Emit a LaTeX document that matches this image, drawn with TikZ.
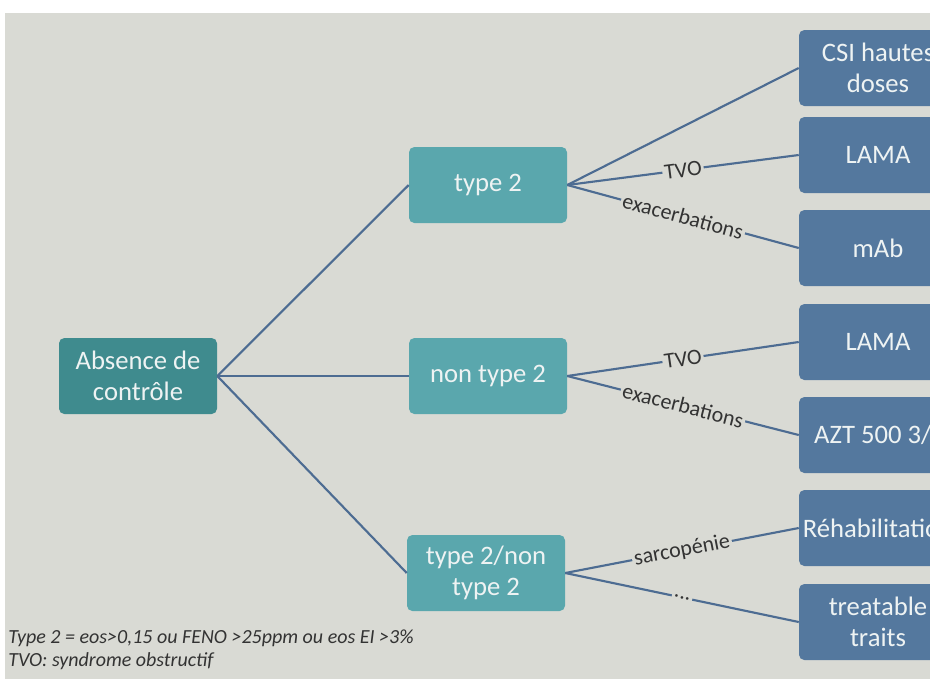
\documentclass[tikz,border=0pt]{standalone}
\usepackage{fontspec}
\setmainfont{Carlito}
\usepackage{tikz}
\usetikzlibrary{positioning}
\definecolor{slidebg}{HTML}{D9DAD4}
\definecolor{rootcol}{HTML}{3F8B8E}
\definecolor{midcol}{HTML}{5AA7AD}
\definecolor{leafcol}{HTML}{54789E}
\definecolor{linecol}{HTML}{4D6C92}
\definecolor{boxtext}{HTML}{EEF3F3}
\definecolor{labeltext}{HTML}{333333}
\tikzstyle{rootbox} = [rectangle, rounded corners=4pt, fill=rootcol, text=boxtext, minimum width=118.5pt, minimum height=57pt, inner sep=0pt, align=center, font=\fontsize{20}{23}\selectfont]
\tikzstyle{midbox} = [rootbox, fill=midcol]
\tikzstyle{leafbox} = [rootbox, fill=leafcol]
\tikzstyle{branch} = [draw=linecol, line width=1.6pt]
\tikzstyle{branchLabel} = [fill=slidebg, text=labeltext, inner sep=1.5pt, font=\fontsize{16.5}{18}\selectfont]
\tikzstyle{footnote} = [anchor=base west, inner sep=0pt, text=labeltext, font=\fontsize{15}{17}\selectfont\itshape]

\begin{document}
\begin{tikzpicture}[x=0.75pt, y=-0.75pt]
    \useasboundingbox (0,0) rectangle (930,679);
    \clip (0,0) rectangle (930,679);
    \fill[slidebg] (5,13) rectangle (930,679);

    % Root
    \node[rootbox] (root) at (138,376) {Absence de\\contrôle};

    % Phenotypes
    \node[midbox] (t2) at (488,185) {type 2};
    \node[midbox] (nt2) at (488,376) {non type 2};
    \node[midbox] (mix) at (486,573) {type 2/non\\type 2};

    % Treatments
    \node[leafbox] (csi) at (878,68) {CSI hautes\\doses};
    \node[leafbox] (lama1) at (878,155) {LAMA};
    \node[leafbox] (mab) at (878,248) {mAb};
    \node[leafbox] (lama2) at (878,342) {LAMA};
    \node[leafbox] (azt) at (878,435) {AZT 500 3/\phantom{s}};
    \node[leafbox] (rehab) at (878,528) {Réhabilitation};
    \node[leafbox] (tt) at (878,622) {treatable\\traits};

    % Root to phenotypes
    \draw[branch] (root.east) -- (t2.west);
    \draw[branch] (root.east) -- (nt2.west);
    \draw[branch] (root.east) -- (mix.west);

    % Type 2
    \draw[branch] (t2.east) -- (csi.west);
    \draw[branch] (t2.east) -- (lama1.west) node[midway, sloped, branchLabel]{TVO};
    \draw[branch] (t2.east) -- (mab.west) node[midway, sloped, branchLabel]{exacerbations};

    % Non type 2
    \draw[branch] (nt2.east) -- (lama2.west) node[midway, sloped, branchLabel]{TVO};
    \draw[branch] (nt2.east) -- (azt.west) node[midway, sloped, branchLabel]{exacerbations};

    % Mixed
    \draw[branch] (mix.east) -- (rehab.west) node[midway, sloped, branchLabel]{sarcopénie};
    \draw[branch] (mix.east) -- (tt.west) node[midway, sloped, branchLabel]{...};

    % Footnotes
    \node[footnote] (note1) at (8,643) {Type 2 = eos>0,15 ou FENO >25ppm ou eos EI >3\%};
    \node[footnote] (note2) at (8,666) {TVO: syndrome obstructif};
\end{tikzpicture}
\end{document}
